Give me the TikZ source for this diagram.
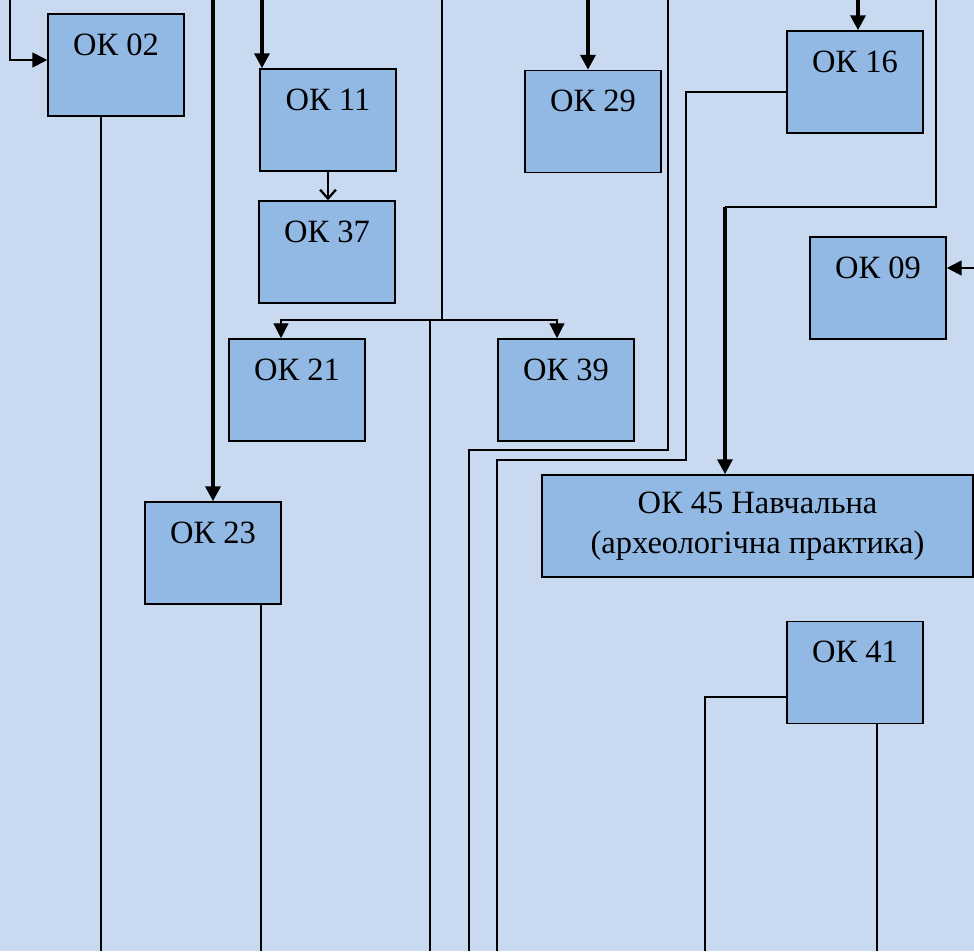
\documentclass[tikz,border=0pt]{standalone}
\usepackage{fontspec}
\setmainfont{Liberation Serif}
\usetikzlibrary{arrows.meta}

\definecolor{sheetblue}{RGB}{200,217,240}
\definecolor{boxblue}{RGB}{146,184,228}

\tikzset{
    okbox/.style={draw, line width=0.9pt, fill=boxblue, minimum width=2.72cm,
        inner ysep=0pt, text height=0.82cm, text depth=1.22cm,
        font=\fontsize{18.5}{22}\selectfont},
    widebox/.style={draw, line width=0.9pt, fill=boxblue, minimum width=8.62cm,
        minimum height=2.04cm, align=center, font=\fontsize{18.5}{22.5}\selectfont},
    link/.style={line width=0.75pt},
    heavy/.style={line width=2pt},
    tip/.style={-{Triangle[length=8.5pt,width=8.5pt]}},
    vtip/.style={-{Straight Barb[length=5pt,width=9pt,line width=1.3pt]}},
}

\begin{document}
\begin{tikzpicture}[x=0.02cm, y=-0.02cm]

    % --- Sheet ---
    \fill[sheetblue] (0,0) rectangle (974,951);
    \useasboundingbox (0,0) rectangle (974,951);

    % --- Line ends at the sheet edges ---
    \foreach \x in {10,213,262,442,588,668,858,936} {
        \coordinate (top\x) at (\x,0);
    }
    \foreach \x in {101,261,430,469,497,705,877} {
        \coordinate (bot\x) at (\x,951);
    }
    \coordinate (edge09) at (974,268);

    % --- Bends ---
    \coordinate (fork) at (442,320);
    \coordinate (fork430) at (430,320);
    \coordinate (turn29) at (668,450);
    \coordinate (turn16) at (686,460);
    \coordinate (turn45) at (725,207);

    % --- Disciplines ---
    \node[okbox] (ok02) at (116,65) {ОК 02};
    \node[okbox] (ok11) at (328,120) {ОК 11};
    \node[okbox] (ok37) at (327,252) {ОК 37};
    \node[okbox] (ok29) at (593,121.5) {ОК 29};
    \node[okbox] (ok16) at (855,82) {ОК 16};
    \node[okbox] (ok09) at (878,288) {ОК 09};
    \node[okbox] (ok21) at (297,390) {ОК 21};
    \node[okbox] (ok39) at (566,390) {ОК 39};
    \node[okbox] (ok23) at (213,553) {ОК 23};
    \node[okbox] (ok41) at (855,672.5) {ОК 41};
    \node[widebox] (ok45) at (757.5,526) {ОК 45 Навчальна\\(археологічна практика)};

    % --- Arrows into the boxes ---
    \draw[link, line width=1.1pt, tip] (top10) |- ([yshift=0.1cm]ok02.west);
    \draw[heavy, tip] (top213) -- (ok23.north);
    \draw[heavy, tip] (top262) -- (top262 |- ok11.north);
    \draw[link, vtip] (ok11.south) -- (ok11.south |- ok37.north);
    \draw[heavy, tip] (top588) -- (top588 |- ok29.north);
    \draw[heavy, tip] (top858) -- (top858 |- ok16.north);
    \draw[link, line width=1.1pt, tip] (edge09) -- (edge09 -| ok09.east);

    % split to OK 21 and OK 39
    \draw[link] (top442) -- (fork);
    \draw[link, tip] (fork) -| ([xshift=-0.32cm]ok21.north);
    \draw[link, tip] (fork) -| ([xshift=-0.18cm]ok39.north);
    \draw[link] (fork430) -- (bot430);

    % into OK 45
    \draw[link, line width=1.1pt] (top936) |- (turn45);
    \draw[heavy, tip] (turn45) -- (turn45 |- ok45.north);

    % --- Lines running off the bottom ---
    \draw[link] (top668) -- (turn29) -| (bot469);
    \draw[link] ([yshift=-0.2cm]ok16.west) -| (turn16) -| (bot497);
    \draw[link] ([yshift=-0.49cm]ok41.west) -| (bot705);
    \draw[link] (bot877 |- ok41.south) -- (bot877);
    \draw[link] (bot101 |- ok02.south) -- (bot101);
    \draw[link] (bot261 |- ok23.south) -- (bot261);

\end{tikzpicture}
\end{document}
